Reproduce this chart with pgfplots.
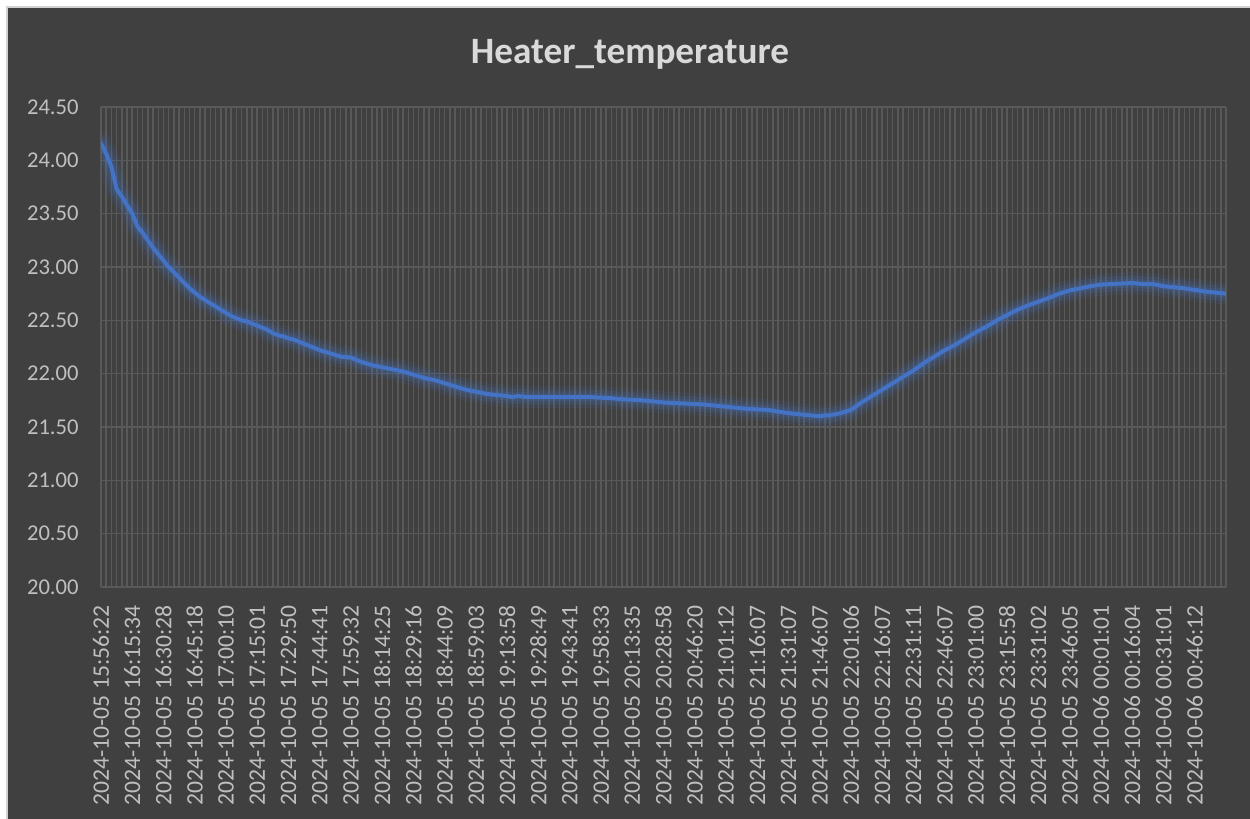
\documentclass[border=0pt]{standalone}
\usepackage{pgfplots}
\pgfplotsset{compat=1.18}
\usepackage{pgfplotstable}
\usepackage{fontspec}
\setmainfont{Carlito}
\definecolor{bg}{HTML}{404040}
\definecolor{gridc}{HTML}{595959}
\definecolor{tickc}{HTML}{BFBFBF}
\definecolor{titlec}{HTML}{D9D9D9}
\definecolor{linec}{HTML}{4472C4}

\pgfplotstableread{
idx temp
0 24.16
1 24.06
2 23.94
3 23.73
4 23.66
5 23.58
6 23.50
7 23.38
8 23.32
9 23.25
10 23.18
11 23.12
12 23.06
13 23.00
14 22.95
15 22.90
16 22.85
17 22.80
18 22.76
19 22.72
20 22.69
21 22.66
22 22.63
23 22.60
24 22.57
25 22.54
26 22.52
27 22.50
28 22.49
29 22.47
30 22.45
31 22.43
32 22.41
33 22.38
34 22.36
35 22.35
36 22.33
37 22.32
38 22.30
40 22.26
42 22.22
44 22.19
46 22.16
48 22.15
50 22.11
52 22.08
54 22.06
56 22.04
58 22.02
60 21.99
62 21.96
64 21.94
66 21.91
68 21.88
70 21.85
72 21.83
74 21.81
76 21.80
78 21.79
79 21.78
80 21.79
82 21.78
84 21.78
86 21.78
90 21.78
94 21.78
98 21.77
100 21.76
104 21.75
108 21.73
112 21.72
116 21.71
120 21.69
124 21.67
128 21.66
132 21.63
134 21.62
136 21.61
138 21.60
139 21.61
140 21.61
142 21.63
144 21.66
146 21.73
148 21.79
150 21.85
152 21.91
154 21.97
156 22.03
158 22.10
160 22.16
162 22.22
164 22.27
166 22.33
168 22.39
170 22.44
172 22.50
174 22.55
176 22.60
178 22.64
180 22.675
182 22.71
184 22.75
186 22.78
188 22.80
190 22.82
192 22.835
194 22.84
196 22.845
198 22.85
200 22.84
202 22.84
204 22.82
206 22.81
208 22.80
210 22.785
212 22.77
214 22.76
216 22.75
}\datatable

\begin{document}
\begin{tikzpicture}[x=1pt,y=1pt]
\useasboundingbox (-50.5,-116) rectangle (574.5,293.5);
\fill[white] (-50.5,-116) rectangle (574.5,293.5);
\fill[bg] (-47,-116) rectangle (574.5,290);
\draw[color=black!18, line width=0.75pt] (-47,-116) -- (-47,290) -- (574.5,290);
\node[font=\fontsize{18.6}{22}\selectfont\bfseries, text=titlec] at (264.5,266.5) {Heater\_temperature};
\begin{axis}[
  at={(0,0)}, anchor=south west,
  scale only axis, width=562.5pt, height=240pt,
  xmin=0, xmax=216, ymin=20, ymax=24.5,
  ytick={20,20.5,21,21.5,22,22.5,23,23.5,24,24.5},
  yticklabels={20.00,20.50,21.00,21.50,22.00,22.50,23.00,23.50,24.00,24.50},
  xtick={0,6,...,210},
  xticklabels={2024-10-05 15:56:22,2024-10-05 16:15:34,2024-10-05 16:30:28,2024-10-05 16:45:18,2024-10-05 17:00:10,2024-10-05 17:15:01,2024-10-05 17:29:50,2024-10-05 17:44:41,2024-10-05 17:59:32,2024-10-05 18:14:25,2024-10-05 18:29:16,2024-10-05 18:44:09,2024-10-05 18:59:03,2024-10-05 19:13:58,2024-10-05 19:28:49,2024-10-05 19:43:41,2024-10-05 19:58:33,2024-10-05 20:13:35,2024-10-05 20:28:58,2024-10-05 20:46:20,2024-10-05 21:01:12,2024-10-05 21:16:07,2024-10-05 21:31:07,2024-10-05 21:46:07,2024-10-05 22:01:06,2024-10-05 22:16:07,2024-10-05 22:31:11,2024-10-05 22:46:07,2024-10-05 23:01:00,2024-10-05 23:15:58,2024-10-05 23:31:02,2024-10-05 23:46:05,2024-10-06 00:01:01,2024-10-06 00:16:04,2024-10-06 00:31:01,2024-10-06 00:46:12},
  minor xtick={0,...,216},
  xmajorgrids, xminorgrids, ymajorgrids,
  major grid style={gridc, line width=0.75pt},
  minor grid style={gridc, line width=0.75pt},
  tick style={draw=none},
  axis line style={draw=none},
  ticklabel style={text=tickc, inner sep=0pt},
  xticklabel style={rotate=90, anchor=east, font=\fontsize{11.8}{13}\selectfont},
  yticklabel style={anchor=east, font=\fontsize{11.3}{13}\selectfont},
  xticklabel shift=9pt,
  yticklabel shift=11pt,
]
\addplot[linec, line width=11pt, opacity=0.10, line join=round, line cap=round] table[x=idx,y=temp]{\datatable};
\addplot[linec, line width=7.5pt, opacity=0.14, line join=round, line cap=round] table[x=idx,y=temp]{\datatable};
\addplot[linec, line width=4.5pt, opacity=0.2, line join=round, line cap=round] table[x=idx,y=temp]{\datatable};
\addplot[linec, line width=2pt, line join=round, line cap=round] table[x=idx,y=temp]{\datatable};
\end{axis}
\end{tikzpicture}
\end{document}
